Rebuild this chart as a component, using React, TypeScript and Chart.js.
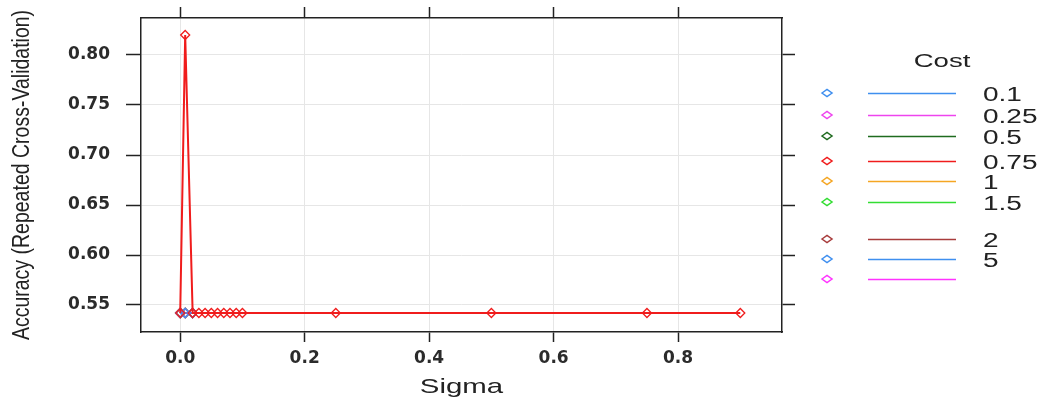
import React, { useEffect, useRef } from "react";
import { Chart, registerables } from "chart.js";

Chart.register(...registerables);

const SIGMA = [0, 0.008, 0.02, 0.03, 0.04, 0.05, 0.06, 0.07, 0.08, 0.09, 0.1, 0.25, 0.5, 0.75, 0.9];
const SIGMA_LOW = [0, 0.008, 0.02];
const COSTS = ["0.1", "0.25", "0.5", "0.75", "1", "1.5", "2", "5", ""];
const COLORS = ["#3f8fef", "#ee44ee", "#1f6b1f", "#f01c1c", "#f5a623", "#33dd33", "#a83c3c", "#3f8fef", "#ff33ff"];
const ACC_C075 = [0.542, 0.82, 0.542, 0.542, 0.542, 0.542, 0.542, 0.542, 0.542, 0.542, 0.542, 0.542, 0.542, 0.542, 0.542];
const ACC_OTHER = [0.542, 0.542, 0.542];
const X_TICKS = [0, 0.2, 0.4, 0.6, 0.8];
const Y_TICKS = [0.55, 0.6, 0.65, 0.7, 0.75, 0.8];
const LEGEND_Y = [93, 115, 136, 161, 181, 202, 239, 259, 279];

const X_MIN = -0.063, X_MAX = 0.967, Y_MIN = 0.523, Y_MAX = 0.837;

function stretchedText(ctx: CanvasRenderingContext2D, text: string, x: number, y: number, sx: number, align: CanvasTextAlign) {
  ctx.save();
  ctx.translate(x, y);
  ctx.scale(sx, 1);
  ctx.textAlign = align;
  ctx.fillText(text, 0, 0);
  ctx.restore();
}

const decorPlugin = {
  id: "decor",
  afterDraw(chart: any) {
    const ctx: CanvasRenderingContext2D = chart.ctx;
    const area = chart.chartArea;
    ctx.save();
    ctx.fillStyle = "#222";
    ctx.textBaseline = "alphabetic";
    ctx.font = '21px "Liberation Sans"';
    stretchedText(ctx, "Sigma", (area.left + area.right) / 2, 393, 1.4, "center");
    ctx.save();
    ctx.translate(22, (area.top + area.bottom) / 2);
    ctx.scale(1.25, 1);
    ctx.rotate(-Math.PI / 2);
    ctx.font = '19.5px "Liberation Sans"';
    ctx.textAlign = "center";
    ctx.textBaseline = "middle";
    ctx.fillText("Accuracy (Repeated Cross-Validation)", 0, 0);
    ctx.restore();
    ctx.font = '19px "Liberation Sans"';
    stretchedText(ctx, "Cost", 942, 67, 1.45, "center");
    ctx.font = '20px "Liberation Sans"';
    COSTS.forEach((c, i) => {
      const y = LEGEND_Y[i];
      const col = COLORS[i];
      ctx.strokeStyle = col;
      ctx.lineWidth = 1.5;
      ctx.beginPath();
      ctx.moveTo(822, y);
      ctx.lineTo(827, y - 3.5);
      ctx.lineTo(832, y);
      ctx.lineTo(827, y + 3.5);
      ctx.closePath();
      ctx.stroke();
      ctx.lineWidth = 1.5;
      ctx.beginPath();
      ctx.moveTo(868, y + 0.5);
      ctx.lineTo(956, y + 0.5);
      ctx.stroke();
      if (c) {
        ctx.fillStyle = "#222";
        stretchedText(ctx, c, 983, y + 8, 1.4, "left");
      }
    });
    ctx.restore();
  },
};

const zeroPad = (s: any) => {
  s.paddingTop = 0;
  s.paddingBottom = 0;
  s.paddingLeft = 0;
  s.paddingRight = 0;
};

export default function App() {
  const ref = useRef<HTMLCanvasElement>(null);
  useEffect(() => {
    const canvas = ref.current!;
    const datasets = COSTS.map((c, i) => {
      const main = c === "0.75";
      const xs = main ? SIGMA : SIGMA_LOW;
      const acc = main ? ACC_C075 : ACC_OTHER;
      return {
        label: c || "-",
        data: xs.map((s, j) => ({ x: s, y: acc[j] })),
        borderColor: COLORS[i],
        backgroundColor: "rgba(0,0,0,0)",
        pointBackgroundColor: "rgba(255,255,255,0)",
        pointBorderColor: COLORS[i],
        pointStyle: "rectRot",
        pointRadius: 4.5,
        pointBorderWidth: 1.3,
        borderWidth: main ? 2 : 1.2,
        tension: 0,
        order: main ? 0 : i + 1,
      };
    });
    const tickFont = { family: "DejaVu Sans", size: 17, weight: "bold" as const };
    const chart = new Chart(canvas, {
      type: "line",
      data: { datasets: datasets as any },
      plugins: [decorPlugin],
      options: {
        animation: false,
        responsive: false,
        devicePixelRatio: 1,
        layout: { padding: { left: 0, right: 249, top: 7, bottom: 0 } },
        plugins: { legend: { display: false }, tooltip: { enabled: false } },
        scales: {
          x: {
            type: "linear",
            position: "bottom",
            min: X_MIN,
            max: X_MAX,
            afterBuildTicks: (s: any) => { s.ticks = X_TICKS.map((v) => ({ value: v })); },
            afterFit: (s: any) => { s.height = 73; zeroPad(s); },
            ticks: { font: tickFont, color: "#2b2b2b", padding: 6, callback: (v: any) => Number(v).toFixed(1), maxRotation: 0 },
            grid: { color: "#e6e6e6", lineWidth: 1, tickColor: "#222", tickLength: 10, tickWidth: 1.5 },
            border: { color: "#222", width: 1.5 },
          },
          x2: {
            type: "linear",
            position: "top",
            min: X_MIN,
            max: X_MAX,
            afterBuildTicks: (s: any) => { s.ticks = X_TICKS.map((v) => ({ value: v })); },
            afterFit: (s: any) => { s.height = 11; zeroPad(s); },
            ticks: { display: false },
            grid: { drawOnChartArea: false, tickColor: "#222", tickLength: 11, tickWidth: 1.5 },
            border: { color: "#222", width: 1.5 },
          },
          y: {
            type: "linear",
            position: "left",
            min: Y_MIN,
            max: Y_MAX,
            afterBuildTicks: (s: any) => { s.ticks = Y_TICKS.map((v) => ({ value: v })); },
            afterFit: (s: any) => { s.width = 141; zeroPad(s); },
            ticks: { font: tickFont, color: "#2b2b2b", padding: 16, callback: (v: any) => Number(v).toFixed(2) },
            grid: { color: "#e6e6e6", lineWidth: 1, tickColor: "#222", tickLength: 15, tickWidth: 1.5 },
            border: { color: "#222", width: 1.5 },
          },
          y2: {
            type: "linear",
            position: "right",
            min: Y_MIN,
            max: Y_MAX,
            afterBuildTicks: (s: any) => { s.ticks = Y_TICKS.map((v) => ({ value: v })); },
            afterFit: (s: any) => { s.width = 13; zeroPad(s); },
            ticks: { display: false },
            grid: { drawOnChartArea: false, tickColor: "#222", tickLength: 13, tickWidth: 1.5 },
            border: { color: "#222", width: 1.5 },
          },
        },
      } as any,
    });
    return () => chart.destroy();
  }, []);
  return (
    <div style={{ position: "absolute", left: 0, top: 0, width: 1044, height: 405, background: "#fff" }}>
      <canvas ref={ref} width={1044} height={405} style={{ width: 1044, height: 405, display: "block" }} />
    </div>
  );
}
